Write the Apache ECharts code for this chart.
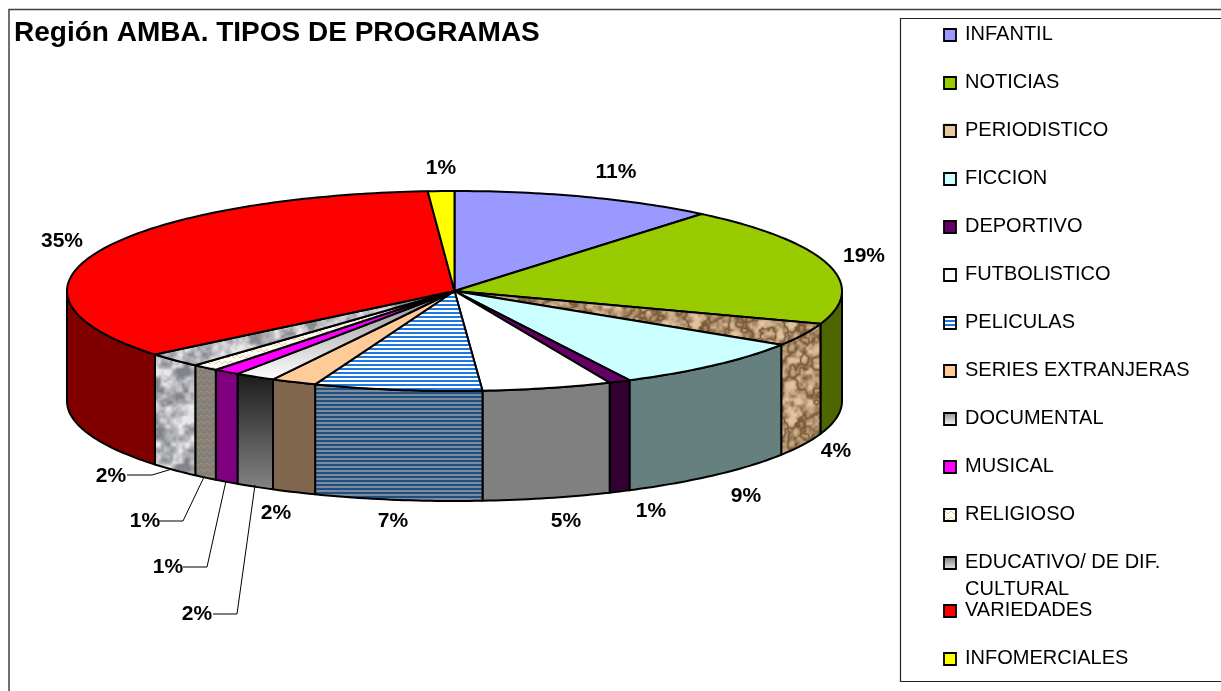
<!DOCTYPE html>
<html><head><meta charset="utf-8">
<style>html,body{margin:0;padding:0;background:#fff}#c{width:1221px;height:691px}</style>
<script src="https://cdn.jsdelivr.net/npm/echarts@6/dist/echarts.min.js"></script>
</head><body><div id="c"></div>
<script>
const chartTitle = 'Región AMBA. TIPOS DE PROGRAMAS';
const categories = ['INFANTIL','NOTICIAS','PERIODISTICO','FICCION','DEPORTIVO','FUTBOLISTICO','PELICULAS','SERIES EXTRANJERAS','DOCUMENTAL','MUSICAL','RELIGIOSO','EDUCATIVO/ DE DIF.\nCULTURAL','VARIEDADES','INFOMERCIALES'];
const values = [11.0,19.3,3.7,8.5,0.9,5.4,7.0,1.9,1.7,1.1,1.1,2.4,34.8,1.1];
const percentLabels = ['11%','19%','4%','9%','1%','5%','7%','2%','2%','1%','1%','2%','35%','1%'];

// layout (not data)
const PIE = {cx:454.5, cy:291, rx:387.5, ry:100, depth:110};
const labelCenters = [[616,172],[864,256],[836,451],[746,496],[651,511],[566,521],[393,521],[276,513],[197,614],[168,567],[145,521],[111,476],[62,241],[441,168]];
const leaders = {
  8:[[213,614],[237,614],[255,485]],
  9:[[183,567],[207,567],[226,481]],
  10:[[158,521],[183,521],[204,477]],
  11:[[127,475],[152,475],[172,469]]
};
const LEGEND = {swatchX:944, textX:965, firstY:34, step:48, size:12};

// deterministic textures
function hash(x,y,s){const v=Math.sin(x*127.1+y*311.7+s*74.7)*43758.5453;return v-Math.floor(v);}
function noiseTile(size,cell,seed){
  const n=Math.round(size/cell), sm=t=>t*t*(3-2*t);
  return (x,y)=>{
    const fx=x/cell, fy=y/cell, x0=Math.floor(fx), y0=Math.floor(fy), tx=sm(fx-x0), ty=sm(fy-y0);
    const h=(a,b)=>hash((a+n)%n,(b+n)%n,seed);
    return (h(x0,y0)*(1-tx)+h(x0+1,y0)*tx)*(1-ty)+(h(x0,y0+1)*(1-tx)+h(x0+1,y0+1)*tx)*ty;
  };
}
function mkCanvas(w,h,draw){const c=document.createElement('canvas');c.width=w;c.height=h;draw(c.getContext('2d'),w,h);return c;}
function noiseCanvas(size,map){
  return mkCanvas(size,size,(g)=>{
    const img=g.createImageData(size,size), a=noiseTile(size,12,1), b=noiseTile(size,6,2), d=noiseTile(size,3,3);
    for(let y=0;y<size;y++)for(let x=0;x<size;x++){
      const v=a(x,y)*.5+b(x,y)*.33+d(x,y)*.17, rgb=map(v,x,y), i=(y*size+x)*4;
      img.data[i]=rgb[0];img.data[i+1]=rgb[1];img.data[i+2]=rgb[2];img.data[i+3]=255;
    }
    g.putImageData(img,0,0);
  });
}
const lerp=(p,q,t)=>p.map((v,i)=>Math.round(v+(q[i]-v)*Math.max(0,Math.min(1,t))));
const graniteTop=noiseCanvas(96,v=>lerp([135,137,142],[232,232,235],(v-.28)*2.4));
const graniteSide=noiseCanvas(96,v=>lerp([130,132,138],[232,232,235],(v-.26)*2.3));
const brown=noiseCanvas(96,v=>{const r=1-Math.abs(v-.5)*3.2;return lerp([226,196,160],[118,86,52],r*r);});
const stripes=(c1,c2,h1,h2)=>mkCanvas(4,h1+h2,(g,w)=>{g.fillStyle=c1;g.fillRect(0,0,w,h1);g.fillStyle=c2;g.fillRect(0,h1,w,h2);});
const peliTop=stripes('#1f78e0','#ffffff',2,2);
const peliSide=stripes('#1f4f80','#7d8c9c',2,2);
const zig=(bg,fg)=>mkCanvas(6,6,(g)=>{g.fillStyle=bg;g.fillRect(0,0,6,6);g.strokeStyle=fg;g.lineWidth=1;g.beginPath();g.moveTo(0,4);g.lineTo(3,1);g.lineTo(6,4);g.stroke();});
const relTop=zig('#ffffff','#f5c77e');
const relSide=zig('#808080','#b58a4f');
const pat=c=>({image:c,repeat:'repeat'});
const vgrad=(a,b)=>({type:'linear',x:0,y:0,x2:0,y2:1,colorStops:[{offset:0,color:a},{offset:1,color:b}]});

const topFills=['#9999FF','#99CC00',pat(brown),'#CCFFFF','#660066','#FFFFFF',pat(peliTop),'#FFCC99',vgrad('#8c8c8c','#ffffff'),'#FF00FF',pat(relTop),pat(graniteTop),'#FF0000','#FFFF00'];
const sideFills=['#4D4D80','#4D6600',pat(brown),'#668080','#330033','#808080',pat(peliSide),'#80664D',vgrad('#1a1a1a','#858585'),'#800080',pat(relSide),pat(graniteSide),'#800000','#808000'];
const swatchFills=['#9999FF','#99CC00','#FFFFFF','#CCFFFF','#660066','#FFFFFF',pat(peliTop),'#FFCC99',vgrad('#8c8c8c','#ffffff'),'#FF00FF',pat(relTop),vgrad('#777777','#eeeeee'),'#FF0000','#FFFF00'];

const total=values.reduce((a,b)=>a+b,0);
const cum=[0]; values.forEach((v,i)=>cum.push(cum[i]+v));
const ang=i=>cum[i]/total*Math.PI*2;
const pt=(t,dy)=>[PIE.cx+PIE.rx*Math.sin(t), PIE.cy-PIE.ry*Math.cos(t)+(dy||0)];
function arc(a,b,dy){const n=Math.max(2,Math.ceil((b-a)/(Math.PI/180)));const r=[];for(let k=0;k<=n;k++)r.push(pt(a+(b-a)*k/n,dy));return r;}

function renderSide(params,api){
  const i=api.value(0);
  const a=Math.max(ang(i),Math.PI/2), b=Math.min(ang(i+1),Math.PI*1.5);
  if(b<=a) return {type:'group',children:[]};
  const pts=arc(a,b,0).concat(arc(a,b,PIE.depth).reverse());
  return {type:'polygon',shape:{points:pts},style:{fill:sideFills[i],stroke:'#000',lineWidth:2,lineJoin:'round'}};
}
function renderTop(params,api){
  const i=api.value(0);
  const pts=[[PIE.cx,PIE.cy]].concat(arc(ang(i),ang(i+1),0));
  return {type:'polygon',shape:{points:pts},style:{fill:topFills[i],stroke:'#000',lineWidth:2,lineJoin:'round'}};
}
function renderLabel(params,api){
  const i=api.value(0), kids=[];
  if(leaders[i]) kids.push({type:'polyline',shape:{points:leaders[i]},style:{fill:'none',stroke:'#000',lineWidth:1}});
  kids.push({type:'text',x:labelCenters[i][0],y:labelCenters[i][1],style:{text:percentLabels[i],font:'bold 21px "Liberation Sans"',fill:'#000',align:'center',verticalAlign:'middle'}});
  return {type:'group',children:kids};
}
function renderLegend(params,api){
  const i=api.value(0), y=LEGEND.firstY+LEGEND.step*i, s=LEGEND.size, kids=[];
  if(i===2) kids.push({type:'rect',shape:{x:LEGEND.swatchX-1,y:y-6,width:s,height:s},style:{fill:'#E8C9A0',stroke:'#E8C9A0',lineWidth:1}});
  kids.push({type:'rect',shape:{x:LEGEND.swatchX,y:y-s/2+1,width:s,height:s},style:{fill:i===2?'rgba(255,255,255,0)':swatchFills[i],stroke:'#000',lineWidth:1.8}});
  const lines=categories[i].split('\n');
  lines.forEach((t,k)=>kids.push({type:'text',x:LEGEND.textX,y:y+k*27,style:{text:t,font:'20px "Liberation Sans"',fill:'#000',align:'left',verticalAlign:'middle'}}));
  return {type:'group',children:kids};
}
const idx=values.map((v,i)=>[i,v]);
const chart=echarts.init(document.getElementById('c'),null,{renderer:'canvas'});
chart.setOption({
  animation:false,
  backgroundColor:'#fff',
  title:{text:chartTitle,left:14,top:19,padding:0,textStyle:{fontFamily:'Liberation Sans',fontWeight:'bold',fontSize:28,color:'#000'}},
  graphic:[
    {type:'rect',z:-1,shape:{x:9,y:9.5,width:1240,height:700},style:{fill:'#fff',stroke:'#404040',lineWidth:1.5}},
    {type:'rect',z:-1,shape:{x:900.5,y:18.5,width:340,height:663},style:{fill:'#fff',stroke:'#222',lineWidth:1.2}}
  ],
  series:[
    {type:'custom',name:'lados',coordinateSystem:'none',silent:true,z:2,data:idx,renderItem:renderSide},
    {type:'custom',name:'sectores',coordinateSystem:'none',silent:true,z:3,data:idx,renderItem:renderTop},
    {type:'custom',name:'etiquetas',coordinateSystem:'none',silent:true,z:4,data:idx,renderItem:renderLabel},
    {type:'custom',name:'leyenda',coordinateSystem:'none',silent:true,z:4,data:idx,renderItem:renderLegend}
  ]
});
</script></body></html>
